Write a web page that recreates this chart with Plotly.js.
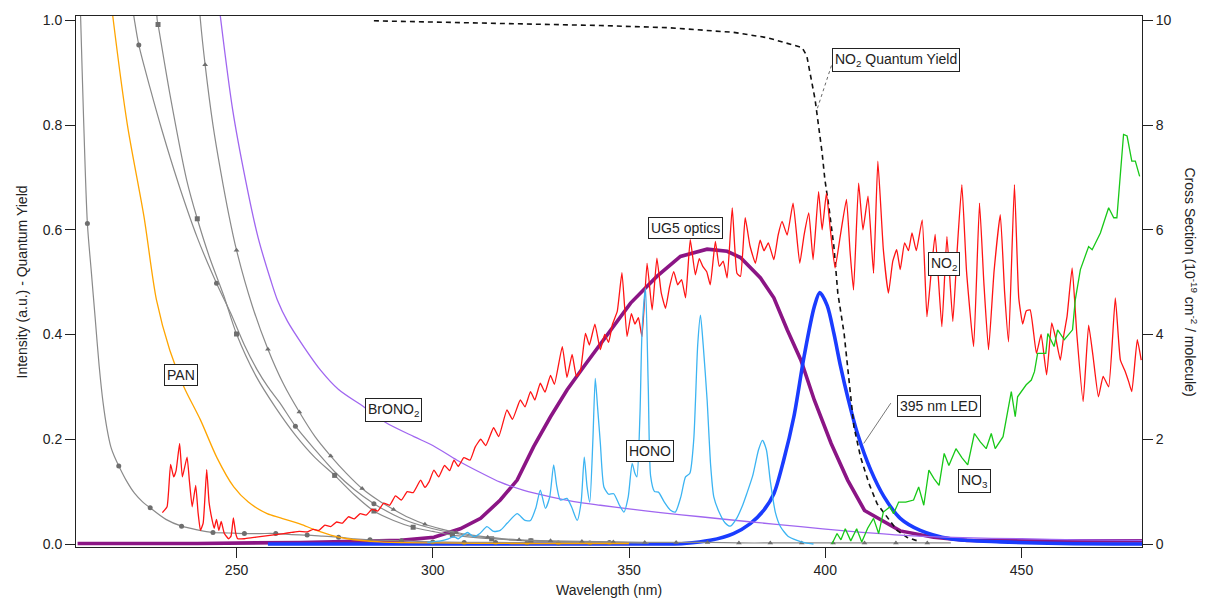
<!DOCTYPE html>
<html><head><meta charset="utf-8">
<script src="https://cdn.plot.ly/plotly-3.0.1.min.js"></script>
<style>html,body{margin:0;padding:0;background:#fff;}#chart{width:1209px;height:598px;}</style>
</head><body><div id="chart"></div>
<script>
// ---------- data (cross sections in 1e-19 cm^2/molecule on right axis; intensities / yields on left axis) ----------
const grayA_x = [209.9,210.3,211,212,213,214,215,216,217,218,219,220,222,224,226,228,232,236,240,244,248,252,256,260,264,268,272,276,280,284,288,292,300,308,316,324,332,340];
const grayA_y = [10.9,10.0,8.2,6.12,5.2,4.3,3.4,2.7,2.2,1.85,1.65,1.49,1.2,0.97,0.81,0.69,0.47,0.34,0.27,0.22,0.21,0.20,0.20,0.20,0.18,0.17,0.15,0.13,0.10,0.08,0.07,0.06,0.04,0.03,0.03,0.02,0.02,0.02];
const grayA_marks = [212,220,228,236,244,252,260,268,276,284,292,300,308,316,324,332,340];

const grayB_x = [223.6,224,225.1,228,231,234.9,240,244.9,248.5,252,255.3,258,261,265,270,275,280,285,290,295,305,315,325,335,345,355];
const grayB_y = [10.2,10.0,9.53,8.7,7.9,6.95,5.85,4.98,4.41,3.8,3.32,3.0,2.7,2.25,1.8,1.38,1.04,0.77,0.56,0.40,0.21,0.11,0.06,0.04,0.03,0.02];
const grayB_marks = [225.1,244.9,265,285,305,325,345];

const grayC_x = [229.6,229.8,230,233,237.3,240,243,246.8,250,255,260,265,270,275,280,285,290,295,300,305,315,325,335,345,355];
const grayC_y = [10.2,10.0,9.92,8.6,6.95,6.21,5.5,4.73,4.01,3.2,2.6,2.08,1.65,1.31,0.94,0.63,0.45,0.32,0.24,0.17,0.10,0.06,0.04,0.03,0.02];
const grayC_marks = [230,240,250,275,285,295,305,315,325];

const grayD_x = [240.6,240.8,242,244,246,248,250,254,258,262,266,270,274,278,282,286,290,294,298,302,306,310,314,318,322,330,338,346,354,362,370,378,386,394,402,410,418,426,432];
const grayD_y = [10.2,10.0,9.15,8.0,7.1,6.3,5.61,4.55,3.72,3.05,2.52,2.05,1.68,1.35,1.06,0.84,0.66,0.50,0.377,0.29,0.22,0.17,0.13,0.10,0.08,0.06,0.05,0.04,0.03,0.03,0.03,0.02,0.02,0.02,0.02,0.02,0.02,0.02,0.02];
const grayD_marks = [242,250,258,266,274,282,290,298,306,314,322,330,338,346,354,362,370,378,386,394,402,410,418,426];

const pan_x = [218.3,218.6,222.2,226.4,229.6,233,236.6,240.8,245,249.3,253,257.8,261.2,266.3,269.7,274,278.2,286.7,300,320,350];
const pan_y = [10.2,10.0,8.0,6.26,4.66,3.7,3.0,2.37,1.65,1.09,0.80,0.58,0.50,0.38,0.28,0.17,0.10,0.04,0.02,0.01,0.01];

const brono2_x = [245.7,246.0,249,252.3,255.5,258.7,260.4,263,267.1,271.4,276,282.4,288,295.2,300,306.2,312,317.2,323,330,336,342.7,350,358,368.2,380,393.7,405,419,435,450,465,480.7];
const brono2_y = [10.2,10.0,8.3,6.95,5.85,5.04,4.66,4.25,3.77,3.32,2.95,2.62,2.32,2.05,1.88,1.60,1.37,1.18,1.03,0.90,0.81,0.74,0.67,0.60,0.52,0.43,0.33,0.25,0.17,0.12,0.10,0.08,0.07];

const no2_x = [231.1,232.3,233.2,234.0,234.6,235.5,236.2,237.4,238.0,238.7,239.6,240.2,240.8,241.5,242.4,243.0,243.8,244.3,244.9,245.5,246.1,246.9,248.0,248.6,249.2,249.8,250.3,252,254,256,258,260,262,264,266,268,269.5,271,272.5,274,275.5,277,278.5,280,281.5,283,284.5,286,287.5,289,290.5,292,293.5,295,296.9,298,299,300.3,301.5,303,304.3,305.4,306.5,307.9,309.5,310.8,312.2,313.5,315.5,316.8,318.9,320.3,322.3,323.5,324.9,326,327.4,328.6,330,331,333,334.2,335.5,336.6,337.6,338.9,339.9,341.3,342.7,343.8,344.8,345.8,347,348.2,349.5,350.6,351.5,352.4,353.3,354.6,355.9,357.1,358.2,359.3,360.3,361.4,362.4,363.4,364.4,365.6,366.9,367.9,368.8,369.8,370.7,372,373,374,375,376.3,377.5,378.4,379.6,380.8,382.2,383.4,384.4,385.5,386.9,388,389,390.3,391.8,393.5,394.6,395.8,396.9,398.3,399.2,400.3,401.3,402.5,403.8,405.4,406.3,407.2,408.5,409.6,410.9,412.3,413.4,414.8,416.1,417.2,418.2,419.1,420.2,421.2,422.1,423.2,424.7,425.9,427,428,429.7,431,432.5,433.6,434.8,436,437.8,439.3,440.4,441.6,443,444.6,445.7,446.7,448.2,449.3,450.3,451.2,452.2,453.8,455,456.4,457.7,458.8,459.9,460.8,461.6,462.9,464.1,465.7,467.1,468.2,469.6,470.8,472.2,473.9,475.2,476.4,477.3,478.1,479.5,480.5];
const no2_y = [0.60,0.71,1.52,1.28,1.40,1.92,1.28,1.66,1.20,0.71,1.12,0.60,0.26,0.40,1.42,0.80,0.45,0.30,0.47,0.26,0.43,0.20,0.10,0.15,0.50,0.20,0.10,0.10,0.12,0.14,0.16,0.18,0.20,0.22,0.24,0.23,0.28,0.26,0.36,0.33,0.42,0.40,0.52,0.48,0.58,0.55,0.66,0.63,0.78,0.74,0.92,0.84,1.00,0.98,1.22,1.08,1.18,1.41,1.28,1.50,1.40,1.60,1.48,1.65,1.60,1.85,2.00,1.88,2.22,2.05,2.56,2.38,2.75,2.62,2.91,2.75,3.07,2.90,3.22,3.05,3.77,3.18,3.62,3.20,3.30,4.02,3.80,4.20,3.71,4.00,3.85,4.20,4.44,5.18,3.96,4.40,4.20,4.32,3.96,5.36,4.47,5.46,4.80,4.50,4.90,5.20,4.95,5.05,4.70,5.81,5.14,5.45,5.30,5.20,4.95,5.78,5.30,5.40,5.08,6.42,5.17,5.11,6.23,5.70,5.36,5.80,5.60,5.75,5.43,5.90,6.16,5.90,6.51,5.36,5.90,6.32,5.43,6.73,6.00,6.70,6.00,5.27,5.87,6.58,5.60,4.85,6.89,6.00,6.64,5.17,7.31,5.62,4.79,5.40,5.62,5.24,5.75,5.60,5.94,5.60,6.19,4.34,5.20,5.91,4.15,5.87,4.25,5.60,6.86,5.20,3.77,6.51,5.00,3.71,5.20,6.29,4.80,3.86,6.86,4.70,4.20,4.45,4.47,3.64,4.00,3.23,4.22,3.90,3.51,4.00,4.34,5.27,4.00,2.72,4.18,3.60,2.81,3.20,3.00,4.70,3.51,3.30,3.10,2.91,3.90,3.51];

const no3_x = [401.7,403,404,405.1,406.5,408,409.3,410.8,412.3,413.6,414.8,416.5,417.4,418.7,420.5,422.5,423.8,425.1,426.4,427.7,429,430.3,431.5,433.3,434.8,436.3,438,439.5,441,442.3,443.3,445.3,447.4,448.4,449,451.2,452.5,453.3,454.1,456.2,456.7,458.3,459.2,460.9,463,463.7,465,467.1,468,470.1,472.2,473.5,474.3,476,476.9,478.1,479,480.1];
const no3_y = [0.00,0.20,0.08,0.29,0.06,0.29,0.04,0.30,0.49,0.20,0.61,0.71,0.58,0.80,0.80,0.84,1.09,0.74,1.41,1.25,1.12,1.73,1.50,1.82,1.65,1.51,2.11,1.95,1.82,2.11,1.82,2.05,2.91,2.43,2.81,3.04,3.13,3.29,3.64,3.64,4.02,3.77,4.09,3.90,4.09,4.66,5.24,5.68,5.62,5.94,6.42,6.23,6.23,7.82,7.79,7.31,7.31,7.02];

const hono_x = [298.6,302,304,305.4,306.5,308.8,310.5,312,313.8,315.5,317.2,319,321.5,323.5,324.9,326.3,327.4,328.7,329.8,330.8,331.6,332.5,334.2,335.4,336.8,337.8,338.6,339.3,340.0,340.8,341.4,342.0,342.7,343.6,344.8,346.1,347.5,348.7,349.8,350.8,351.5,352.0,352.8,353.3,354.2,354.9,355.5,356.5,357.5,359,360.5,361.8,363.2,364.4,365.5,366.5,367.5,368.2,368.9,369.9,370.8,371.6,373,374.5,375.8,377.5,379,380,381.5,383,384,385,386,387.3,388.6,390.5,392.8,395,397];
const hono_y = [0.03,0.06,0.10,0.14,0.10,0.22,0.14,0.20,0.33,0.24,0.26,0.40,0.58,0.45,0.45,0.70,1.03,0.68,0.90,1.51,1.10,0.84,0.87,0.70,0.45,0.80,1.66,1.10,0.80,2.00,3.16,2.60,1.92,1.09,0.95,0.96,0.75,0.61,0.90,1.54,1.35,1.28,2.50,4.02,4.89,3.00,1.30,1.00,0.99,0.80,0.65,0.61,0.90,1.28,1.35,2.00,3.80,4.37,3.80,2.75,1.50,0.90,0.60,0.40,0.34,0.50,0.75,0.96,1.30,1.80,1.98,1.80,1.20,0.60,0.33,0.15,0.07,0.02,0.00];

const ug5_x = [209.5,240,266.3,280,291.8,300.3,307,312.2,317.2,321.5,325.7,330,334.2,338.5,343.6,350.4,357.1,363.1,369.9,375,378.4,383.5,386.9,390.3,393.8,397.2,401.5,405.7,410,414.9,419.1,427.6,436.1,450,480.7];
const ug5_y = [0.001,0.001,0.003,0.005,0.007,0.013,0.029,0.049,0.084,0.122,0.186,0.243,0.294,0.339,0.39,0.46,0.511,0.549,0.563,0.559,0.547,0.508,0.470,0.409,0.351,0.275,0.192,0.122,0.064,0.042,0.025,0.013,0.007,0.006,0.006];

const led_x = [258,300,340,360,364,370.7,376.6,380.9,384.3,386.9,389.4,392,394.6,397.2,398.6,400.5,402.2,403.9,405.7,408.2,411.6,415,419.1,424.2,431.9,444.6,460,480.7];
const led_y = [0.0,0.0,0.0,0.0,0.001,0.007,0.020,0.039,0.064,0.096,0.160,0.243,0.358,0.453,0.480,0.455,0.402,0.339,0.281,0.211,0.141,0.090,0.049,0.026,0.010,0.004,0.001,0.0];

const qy_x = [285,300,320,342.7,359.7,376.6,385.1,390.2,394.1,395.3,396.2,397.4,398.3,399.2,399.9,400.9,402.2,403.2,404.8,406.1,407.3,409,411.1,413.2,415.7,418.3,420.8,424.2];
const qy_y = [0.999,0.997,0.994,0.990,0.986,0.977,0.967,0.957,0.948,0.932,0.893,0.849,0.798,0.747,0.696,0.645,0.568,0.479,0.402,0.313,0.224,0.166,0.116,0.077,0.052,0.026,0.013,0.004];

const labelText = ['NO<sub>2</sub> Quantum Yield','UG5 optics','NO<sub>2</sub>','395 nm LED','NO<sub>3</sub>','HONO','BrONO<sub>2</sub>','PAN'];
const labelX = [418.0,364.4,430.3,429.0,438.0,355.4,289.9,235.9];
const labelY = [0.9235,0.603,0.535,0.263,0.121,0.178,0.256,0.322];

const xTicks = [250,300,350,400,450];
const yTicks = [0,0.2,0.4,0.6,0.8,1.0];
const y2Ticks = [0,2,4,6,8,10];

// ---------- build ----------
const FONT = 'Arial, "Liberation Sans", sans-serif';
const GRAY_LINE = '#8a8a8a', GRAY_MARK = '#6e6e6e';
function grayTraces(xs, ys, marks, symbol){
  const mx = [], my = [];
  xs.forEach((v,i)=>{ if (marks.indexOf(v) >= 0){ mx.push(v); my.push(ys[i]); } });
  return [
    {x: xs, y: ys, yaxis:'y2', mode:'lines', line:{color:GRAY_LINE, width:1.2, shape:'spline', smoothing:0.8}, hoverinfo:'skip'},
    {x: mx, y: my, yaxis:'y2', mode:'markers', marker:{color:GRAY_MARK, size:5, symbol:symbol}, hoverinfo:'skip'}
  ];
}
const traces = [].concat(
  grayTraces(grayA_x, grayA_y, grayA_marks, 'circle'),
  grayTraces(grayB_x, grayB_y, grayB_marks, 'circle'),
  grayTraces(grayC_x, grayC_y, grayC_marks, 'square'),
  grayTraces(grayD_x, grayD_y, grayD_marks, 'triangle-up'),
  [
    {x: pan_x, y: pan_y, yaxis:'y2', mode:'lines', line:{color:'#ffa500', width:1.3, shape:'spline', smoothing:0.8}},
    {x: brono2_x, y: brono2_y, yaxis:'y2', mode:'lines', line:{color:'#a066f0', width:1.3, shape:'spline', smoothing:0.8}},
    {x: no2_x, y: no2_y, yaxis:'y2', mode:'lines', line:{color:'#ff1414', width:1.3, shape:'spline', smoothing:0.4}},
    {x: no3_x, y: no3_y, yaxis:'y2', mode:'lines', line:{color:'#18c818', width:1.3}},
    {x: hono_x, y: hono_y, yaxis:'y2', mode:'lines', line:{color:'#3cb4f2', width:1.3, shape:'spline', smoothing:0.6}},
    {x: ug5_x, y: ug5_y, yaxis:'y', mode:'lines', line:{color:'#8b1585', width:3.6}},
    {x: led_x, y: led_y, yaxis:'y', mode:'lines', line:{color:'#1a3cff', width:3.6, shape:'spline', smoothing:0.8}},
    {x: qy_x, y: qy_y, yaxis:'y', mode:'lines', line:{color:'#111', width:1.6, dash:'5px,4px'}}
  ]
);

const annotations = labelText.map((t,i)=>({
  x: labelX[i], y: labelY[i], xref:'x', yref:'y', text:t, showarrow:false,
  bgcolor:'#fff', bordercolor:'#222', borderwidth:1, borderpad:2,
  font:{family:FONT, size:14, color:'#222'}, xanchor:'center', yanchor:'middle'
}));
annotations.push(
  {xref:'paper', yref:'paper', x:0.5, y:-0.081, text:'Wavelength (nm)', showarrow:false, xanchor:'center', yanchor:'middle', font:{family:FONT, size:14, color:'#222'}},
  {xref:'paper', yref:'paper', x:-0.0507, y:0.5, text:'Intensity (a.u.) - Quantum Yield', textangle:-90, showarrow:false, xanchor:'center', yanchor:'middle', font:{family:FONT, size:14, color:'#222'}},
  {xref:'paper', yref:'paper', x:1.046, y:0.5, text:'Cross Section (10<sup>-19</sup> cm<sup>-2</sup> / molecule)', textangle:90, showarrow:false, xanchor:'center', yanchor:'middle', font:{family:FONT, size:14, color:'#222'}}
);

const shapes = [
  {type:'line', xref:'x', yref:'y', x0:398.0, y0:0.832, x1:401.6, y1:0.914, line:{color:'#666', width:1, dash:'dot'}},
  {type:'line', xref:'x', yref:'y', x0:409.8, y0:0.192, x1:416.7, y1:0.269, line:{color:'#555', width:0.8}}
];

const axisCommon = {ticks:'outside', ticklen:10, tickwidth:1, tickcolor:'#222', showline:true, linecolor:'#222', linewidth:1,
  showgrid:false, zeroline:false, tickfont:{family:FONT, size:14, color:'#222'}, fixedrange:true};

const layout = {
  width:1209, height:598,
  margin:{l:76, r:67, t:16, b:51, pad:0},
  paper_bgcolor:'#fff', plot_bgcolor:'#fff', showlegend:false,
  xaxis: Object.assign({}, axisCommon, {range:[209.1,480.7], tickvals:xTicks, mirror:true}),
  yaxis: Object.assign({}, axisCommon, {range:[-0.00573,1.0082], tickvals:yTicks, tickformat:'.1f', mirror:true}),
  yaxis2: Object.assign({}, axisCommon, {range:[-0.0573,10.082], tickvals:y2Ticks, overlaying:'y', side:'right'}),
  annotations: annotations,
  shapes: shapes
};
Plotly.newPlot('chart', traces, layout, {displayModeBar:false, staticPlot:true});
</script>
</body></html>
